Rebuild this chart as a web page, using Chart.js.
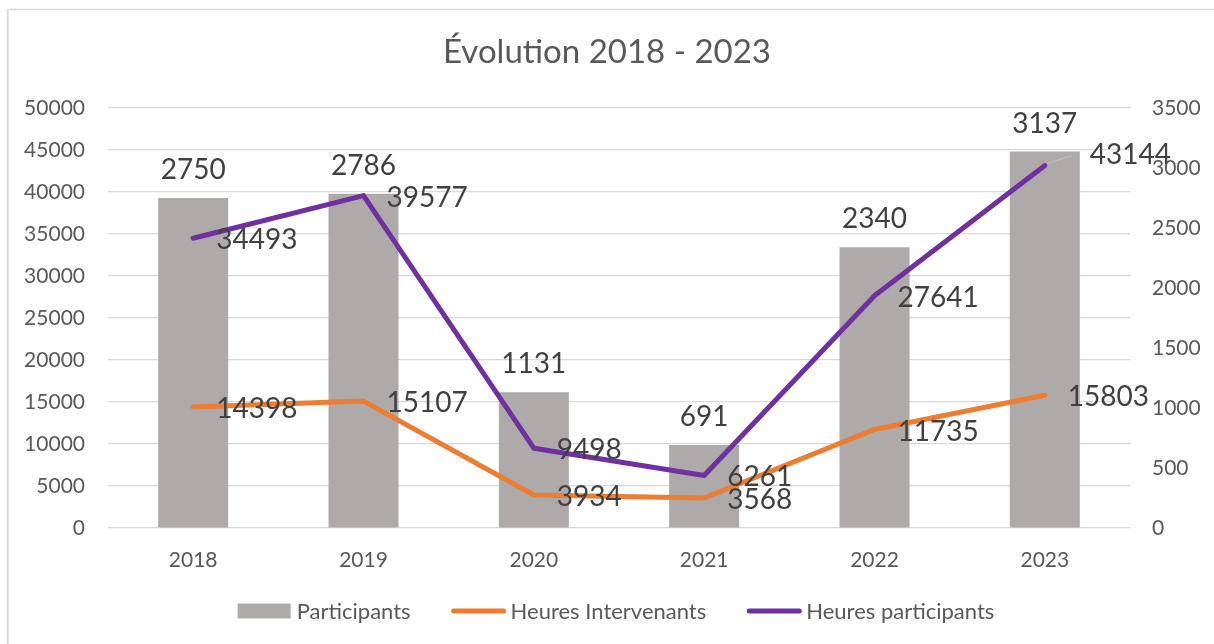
<!DOCTYPE html>
<html>
<head>
<meta charset="utf-8">
<script src="https://cdn.jsdelivr.net/npm/chart.js@4.4.1/dist/chart.umd.min.js"></script>
<style>
  html, body { margin: 0; padding: 0; background: #ffffff; }
  #wrap { width: 1214px; height: 644px; position: relative; }
  canvas { display: block; }
</style>
</head>
<body>
<div id="wrap"><canvas id="c" width="1214" height="644"></canvas></div>
<script>
// ---- Data ----
const years = ['2018', '2019', '2020', '2021', '2022', '2023'];
const participants = [2750, 2786, 1131, 691, 2340, 3137];
const heuresIntervenants = [14398, 15107, 3934, 3568, 11735, 15803];
const heuresParticipants = [34493, 39577, 9498, 6261, 27641, 43144];
const leftTicks = { min: 0, max: 50000, step: 5000 };
const rightTicks = { min: 0, max: 3500, step: 500 };
const titleText = 'Évolution 2018 - 2023';

// ---- Styles ----
const FONT = 'Lato, "Open Sans", "Noto Sans", sans-serif';
const AXIS_COLOR = '#595959';
const LABEL_COLOR = '#404040';
const GRID_COLOR = '#d9d9d9';
const TICK_SIZE = 21;
const LABEL_SIZE = 28;
const LEGEND_SIZE = 22;
const LINE_W = 5;

const framePlugin = {
  id: 'frame',
  beforeDraw(chart) {
    const ctx = chart.ctx;
    ctx.save();
    ctx.fillStyle = '#ffffff';
    ctx.fillRect(0, 0, chart.width, chart.height);
    ctx.strokeStyle = GRID_COLOR;
    ctx.lineWidth = 2;
    ctx.beginPath(); ctx.moveTo(7.7, 9); ctx.lineTo(7.7, chart.height); ctx.stroke();
    ctx.lineWidth = 1.3;
    ctx.beginPath(); ctx.moveTo(7, 9.5); ctx.lineTo(chart.width, 9.5); ctx.stroke();
    ctx.restore();
  }
};

const dataLabelPlugin = {
  id: 'dataLabels',
  afterDatasetsDraw(chart) {
    const ctx = chart.ctx;
    ctx.save();
    ctx.font = LABEL_SIZE + 'px ' + FONT;
    ctx.fillStyle = LABEL_COLOR;
    ctx.textBaseline = 'alphabetic';
    const capHalf = LABEL_SIZE * 0.36;
    chart.data.datasets.forEach((ds, i) => {
      const meta = chart.getDatasetMeta(i);
      if (meta.hidden) return;
      meta.data.forEach((el, j) => {
        const txt = String(ds.data[j]);
        if (ds.type === 'bar') {
          ctx.textAlign = 'center';
          ctx.fillText(txt, el.x, el.y - 29 + capHalf);
        } else {
          const sh = (ds.labelShift && ds.labelShift[j]) || { dx: 23, dy: 1 };
          if (sh.leader) {
            ctx.save();
            ctx.strokeStyle = '#bfbfbf';
            ctx.lineWidth = 1;
            ctx.beginPath();
            ctx.moveTo(el.x + 2, el.y - 2);
            ctx.lineTo(el.x + sh.dx - 18, el.y + sh.dy + 2);
            ctx.stroke();
            ctx.restore();
          }
          ctx.textAlign = 'left';
          ctx.fillText(txt, el.x + sh.dx, el.y + sh.dy + capHalf);
        }
      });
    });
    ctx.restore();
  }
};

const legendPlugin = {
  id: 'customLegend',
  afterDraw(chart) {
    const ctx = chart.ctx;
    ctx.save();
    ctx.font = LEGEND_SIZE + 'px ' + FONT;
    ctx.textBaseline = 'alphabetic';
    ctx.textAlign = 'left';
    const items = chart.data.datasets.map(ds => ({
      label: ds.label, type: ds.type,
      color: ds.type === 'bar' ? ds.backgroundColor : ds.borderColor
    }));
    const sw = 53, tg = 6, gap = 41;
    const widths = items.map(it => sw + tg + ctx.measureText(it.label).width);
    const total = widths.reduce((a, b) => a + b, 0) + gap * (items.length - 1);
    let x = 616 - total / 2;
    const cy = 611;
    items.forEach((it, k) => {
      if (it.type === 'bar') {
        ctx.fillStyle = it.color;
        ctx.fillRect(x, cy - 7.5, sw, 15);
      } else {
        ctx.strokeStyle = it.color;
        ctx.lineWidth = LINE_W;
        ctx.lineCap = 'round';
        ctx.beginPath();
        ctx.moveTo(x + 2, cy);
        ctx.lineTo(x + sw - 1, cy);
        ctx.stroke();
      }
      ctx.fillStyle = AXIS_COLOR;
      ctx.fillText(it.label, x + sw + tg, cy + LEGEND_SIZE * 0.36);
      x += widths[k] + gap;
    });
    ctx.restore();
  }
};

function build() {
  new Chart(document.getElementById('c'), {
    type: 'bar',
    data: {
      labels: years,
      datasets: [
        {
          type: 'bar',
          label: 'Participants',
          data: participants,
          backgroundColor: '#AEAAAA',
          borderWidth: 0,
          yAxisID: 'y1',
          order: 2,
          categoryPercentage: 1.0,
          barPercentage: 0.411
        },
        {
          type: 'line',
          label: 'Heures Intervenants',
          data: heuresIntervenants,
          borderColor: '#ED7D31',
          backgroundColor: '#ED7D31',
          borderWidth: LINE_W,
          pointRadius: 0,
          tension: 0,
          borderCapStyle: 'round',
          borderJoinStyle: 'round',
          yAxisID: 'y',
          order: 1
        },
        {
          type: 'line',
          label: 'Heures participants',
          data: heuresParticipants,
          borderColor: '#7030A0',
          backgroundColor: '#7030A0',
          borderWidth: LINE_W,
          pointRadius: 0,
          tension: 0,
          borderCapStyle: 'round',
          borderJoinStyle: 'round',
          yAxisID: 'y',
          order: 0,
          labelShift: { 5: { dx: 45, dy: -12, leader: true } }
        }
      ]
    },
    options: {
      responsive: false,
      animation: false,
      devicePixelRatio: 1,
      layout: { padding: 0 },
      plugins: {
        legend: { display: false },
        tooltip: { enabled: false },
        title: {
          display: true,
          text: titleText,
          color: AXIS_COLOR,
          font: { family: FONT, size: 33, weight: 'normal', lineHeight: 1.2 },
          padding: { top: 32.8, bottom: 35.6 }
        }
      },
      scales: {
        x: {
          type: 'category',
          grid: { display: false },
          border: { display: false },
          ticks: { color: AXIS_COLOR, font: { family: FONT, size: TICK_SIZE }, padding: 12, maxRotation: 0 },
          afterFit(s) { s.height = 116; }
        },
        y: {
          position: 'left',
          min: leftTicks.min,
          max: leftTicks.max,
          grid: { color: GRID_COLOR, lineWidth: 1.3, drawTicks: false },
          border: { display: false },
          ticks: {
            stepSize: leftTicks.step,
            color: AXIS_COLOR,
            font: { family: FONT, size: TICK_SIZE },
            padding: 23,
            callback: v => String(v)
          },
          afterFit(s) { s.width = 108; }
        },
        y1: {
          position: 'right',
          min: rightTicks.min,
          max: rightTicks.max,
          grid: { drawOnChartArea: false, drawTicks: false },
          border: { display: false },
          ticks: {
            stepSize: rightTicks.step,
            color: AXIS_COLOR,
            font: { family: FONT, size: TICK_SIZE },
            padding: 22,
            callback: v => String(v)
          },
          afterFit(s) { s.width = 84; }
        }
      }
    },
    plugins: [framePlugin, dataLabelPlugin, legendPlugin]
  });
}

if (document.fonts && document.fonts.load) {
  Promise.all([
    document.fonts.load('20px Lato'),
    document.fonts.load('28px Lato')
  ]).then(build, build);
} else {
  build();
}
</script>
</body>
</html>
